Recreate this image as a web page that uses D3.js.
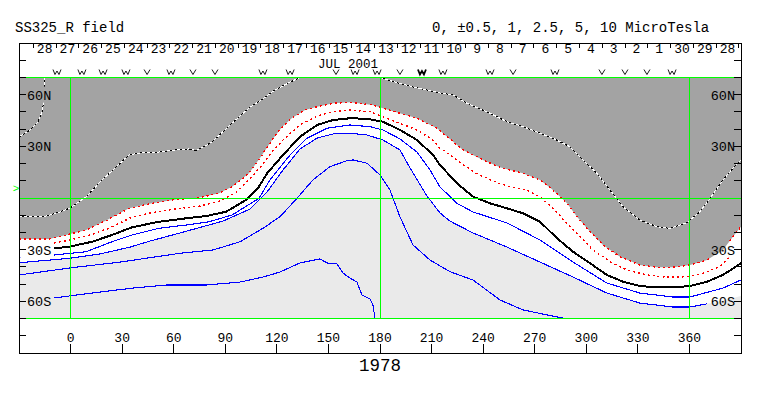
<!DOCTYPE html>
<html>
<head>
<meta charset="utf-8">
<script src="https://cdn.jsdelivr.net/npm/d3@7"></script>
<style>body{margin:0;background:#fff}</style>
</head>
<body>
<script>
// Carrington rotation / source surface field
const rotation = "1978"
const title = "SS325_R field"
const levels = "0, \u00b10.5, 1, 2.5, 5, 10 MicroTesla"
const monthLabel = "JUL 2001"

const days = [28,27,26,25,24,23,22,21,20,19,18,17,16,15,14,13,12,11,10,9,8,7,6,5,4,3,2,1,30,29,28]
const dayTick0 = -21.7
const degPerDay = 13.24

const lonTicks = [0,30,60,90,120,150,180,210,240,270,300,330,360]
const latLabelValues = [60,30,-30,-60]
const latLabels = ["60N","30N","30S","60S"]
const earthLat = 5.6

const sectorLon = [-7.9,6.6,18.9,32.2,44.5,58.4,71.2,84,111.9,127.7,154.4,165.5,178.3,191.6,204.4,216.6,244,257.4,281.8,309.1,322.5,335.3,349.9]
const sectorMark = ["w","w","w","w","v","w","v","v","w","w","v","w","w","v","W","w","w","v","w","v","v","v","w"]

// contour lines, [longitude, latitude]
const pos25A = [[-15.5,70],[-14.9,62.7],[-15.5,56.9],[-16.6,49.9],[-19,44.1],[-23.6,39.5],[-30,35.4]]
const pos25B = [[-30,-10.5],[-14.3,-10.5],[-6.2,-8.1],[-0.3,-5.8],[9,0.6],[18.3,10.5],[25.9,17.4],[34,25],[43.3,26.7],[51.4,26.7],[60.8,27.9],[68.9,28.5],[73,27.6],[78.2,30.2],[82.3,32.5],[92.8,42.4],[104.4,52.8],[111.9,57.5],[118.9,62.7],[127.7,67.3],[133.5,70]]
const pos25C = [[180,70],[188.7,67.3],[199.2,64.5],[214.9,61],[222.5,59.8],[230.6,55],[244,49.2],[253.9,44.3],[263.2,41.4],[273.1,37.6],[280.6,34.7],[290.5,29.8],[298.1,22.1],[306.2,14.3],[313.8,4.6],[321.4,-5.1],[331.2,-12.8],[341.1,-16.7],[348.7,-17.6],[358.6,-14.3],[366.1,-8],[372,-0.2],[379.5,10.5],[385.3,17.2],[390,22.1]]
const pos1 = [[-30,-23.8],[-12.5,-23.8],[-0.9,-21.1],[9,-18.6],[21.2,-12.8],[34,-6],[47.4,-3.1],[61.3,-0.8],[73,-0.2],[86.3,2.7],[93.9,6.6],[103.8,14.3],[111.4,25],[117.2,33.7],[123,41.2],[128.8,46.5],[136.4,51.1],[143.4,53],[152.7,55],[162.5,55.6],[175.9,54],[181.7,52.1],[191.6,49.2],[201.5,46.3],[213.2,40.5],[228.3,27.9],[239.9,22.1],[249.8,17.8],[263.2,14.3],[273.1,10.5],[280.6,4.6],[288.8,-3.1],[294.6,-10.9],[300.4,-17.6],[309.7,-27.3],[319.6,-34.1],[331.2,-38.9],[341.1,-40.2],[350.4,-40.2],[360.3,-38.9],[370.2,-36],[379.5,-30.2],[385.3,-22.5],[390,-16.7]]
const pos05 = [[-30,-27.3],[-9.6,-26.1],[-0.3,-24.4],[11.3,-21.5],[22.9,-17.4],[34.6,-11.6],[46.2,-8.7],[60.8,-6.4],[75.3,-4.7],[86.9,-1.7],[95.7,2.9],[104.4,11],[111.4,19.2],[117.2,26.7],[123.6,33.7],[133.5,42.4],[143.4,47.6],[152.7,50.1],[162.5,51.1],[174.2,50.1],[181.7,47.2],[191.6,43.4],[201.5,39.5],[210.8,33.7],[214.9,28.9],[224.8,22.1],[234.1,15.3],[244,10.5],[253.9,7],[265.5,4.6],[273.1,0.8],[280.6,-6],[288.8,-14.7],[296.3,-22.5],[303.9,-30.2],[313.8,-37],[323.7,-41.8],[335.3,-44.7],[347,-46],[358.6,-45.7],[367.9,-43.7],[377.8,-39.9],[382.4,-35],[390,-30.2]]
const zero = [[-30,-30.8],[-9.6,-29.2],[-0.9,-28.3],[12.5,-25.4],[24.1,-21.5],[35.7,-17],[51.4,-13.8],[67.1,-11.8],[78.8,-10.5],[90.4,-8],[102,-1.2],[109.6,6.6],[114.3,14.3],[123.6,25],[133.5,35.6],[143.4,42.4],[152.7,45.3],[162.5,46.3],[172.4,46],[181.7,44.3],[191.6,39.5],[201.5,33.7],[210.8,25],[214.9,19.2],[224.8,8.5],[234.1,0.8],[244,-3.1],[253.9,-6],[263.2,-8.9],[273.1,-13.8],[283,-23.4],[292.3,-31.2],[302.2,-37.9],[312,-44.7],[321.4,-48.6],[331.2,-51.1],[341.1,-51.9],[350.4,-51.9],[360.3,-51.1],[370.2,-48.6],[379.5,-44.7],[390,-37.9]]
const neg05 = [[-30,-34.3],[-9.6,-33.1],[9,-31.2],[24.1,-25.4],[35.7,-21.5],[51.4,-17.6],[67.1,-15.7],[80.5,-13.8],[93.9,-9.9],[109.6,-0.2],[116,10.5],[127.7,25],[137.5,34.7],[149.2,40.5],[162.5,42.4],[174.2,41.4],[181.7,39.5],[191.6,34.3],[201.5,26.7],[209.1,16.3],[214.9,6.4],[224.8,-3.1],[234.1,-8.1],[253.9,-14.5],[273.1,-24.4],[292.3,-37.2],[312,-49.4],[331.2,-55.2],[350.4,-57.5],[360.3,-57.5],[379.5,-52.3],[390,-47.6]]
const neg1 = [[-30,-37.6],[-0.3,-35],[17.1,-32.5],[34.6,-28.5],[46.2,-25],[63.7,-20.3],[88.7,-13.4],[104.4,-6.4],[114.3,3.5],[123.6,16.3],[133.5,28.5],[143.4,34.8],[152.7,37.2],[162.5,37.6],[172.4,36.6],[181.7,33.7],[191.6,27.9],[197.5,17.4],[207.3,1.2],[214.9,-8.7],[220.7,-13.4],[234.1,-20.3],[253.9,-28.5],[273.1,-37.2],[292.3,-45.9],[312,-55.2],[331.2,-61],[350.4,-63.3],[360.3,-63.3],[376,-60.4],[390,-56.9]]
const neg25 = [[-30,-44.7],[-0.3,-40.6],[28.8,-37.2],[63.7,-32.1],[82.8,-30.2],[98.6,-25.4],[111.9,-17.6],[121.8,-10.9],[131.7,-0.2],[141,10.5],[150.9,18.2],[160.8,21.7],[164.3,22.1],[172.4,20.2],[180,13.4],[185.8,4.6],[191.6,-10.9],[199.2,-27.3],[209.1,-36],[220.7,-42.8],[234.1,-47.6],[249.8,-59.2],[263.2,-65],[287.6,-70]]
const neg5 = [[-30,-59.8],[-10.2,-58.1],[17.1,-54.6],[36.3,-52.3],[56.1,-50.5],[79.4,-50.5],[98.6,-48.8],[111.9,-45.9],[121.8,-43],[133.5,-37.7],[145.1,-35.4],[149.2,-37.7],[155,-38.3],[158.5,-43.6],[162.5,-46.5],[166.6,-48.8],[169.5,-56.3],[174.2,-58.6],[175.9,-62.1],[177.1,-70]]

const width = 763
const height = 396
const font = "'Liberation Mono', 'DejaVu Sans Mono', monospace"
const darkGray = "#a3a3a3"
const lightGray = "#eaeaea"
const green = "#00ff00"

const x = d3.scaleLinear().domain([-30, 390]).range([19, 741])
const y = d3.scaleLinear().domain([90, -90]).range([43, 353])
const px = v => Math.floor(v) + 0.5

const svg = d3.select("body").append("svg")
  .attr("width", width).attr("height", height)
  .style("font-family", font)

// mask so the contour lines stop at the latitude labels
const mask = svg.append("defs").append("mask").attr("id", "lblmask")
mask.append("rect").attr("width", width).attr("height", height).attr("fill", "#fff")
latLabelValues.forEach(v => {
  mask.append("rect").attr("x", 19).attr("y", y(v) - 8).attr("width", 35).attr("height", 16).attr("fill", "#000")
  mask.append("rect").attr("x", 707).attr("y", y(v) - 8).attr("width", 35).attr("height", 16).attr("fill", "#000")
})

// shaded polarity regions
svg.append("path")
  .attr("d", d3.area().x(d => x(d[0])).y0(y(70)).y1(d => y(d[1]))(pos1))
  .attr("fill", darkGray)
svg.append("path")
  .attr("d", d3.area().x(d => x(d[0])).y0(y(-70)).y1(d => y(d[1]))(neg1))
  .attr("fill", lightGray)

const line = d3.line().x(d => x(d[0])).y(d => y(d[1]))
const contours = svg.append("g").attr("mask", "url(#lblmask)")
  .attr("fill", "none").style("shape-rendering", "crispEdges")

;[pos25A, pos25B, pos25C].forEach(seg => {
  contours.append("path").attr("d", line(seg)).attr("stroke", "#000").attr("stroke-width", 1)
  contours.append("path").attr("d", line(seg)).attr("stroke", "#fff").attr("stroke-width", 1)
    .attr("stroke-dasharray", "3,2")
})
;[pos1, pos05].forEach(seg => {
  contours.append("path").attr("d", line(seg)).attr("stroke", "#ff0000").attr("stroke-width", 1.4)
    .attr("stroke-dasharray", "2,3")
})
contours.append("path").attr("d", line(zero)).attr("stroke", "#000").attr("stroke-width", 2)
;[neg05, neg1, neg25, neg5].forEach(seg => {
  contours.append("path").attr("d", line(seg)).attr("stroke", "#0000ff").attr("stroke-width", 1.1)
})

// green reference grid
const grid = svg.append("g").attr("stroke", green).attr("stroke-width", 1).style("shape-rendering", "crispEdges")
;[70, 0, -70].forEach(lat => {
  grid.append("line").attr("x1", x(-30)).attr("x2", x(390)).attr("y1", px(y(lat))).attr("y2", px(y(lat)))
})
;[0, 180, 360].forEach(lon => {
  grid.append("line").attr("x1", px(x(lon))).attr("x2", px(x(lon))).attr("y1", y(70)).attr("y2", y(-70))
})

// frame and ticks
const axes = svg.append("g").attr("stroke", "#000").style("shape-rendering", "crispEdges")
axes.append("rect").attr("x", px(x(-30))).attr("y", px(y(90))).attr("width", x(390) - x(-30)).attr("height", y(-90) - y(90))
  .attr("fill", "none")
d3.range(80, -81, -10).filter(v => v !== 0).forEach(v => {
  axes.append("line").attr("x1", x(-30)).attr("x2", x(-30) + 7).attr("y1", px(y(v))).attr("y2", px(y(v)))
  axes.append("line").attr("x1", x(390) - 7).attr("x2", x(390)).attr("y1", px(y(v))).attr("y2", px(y(v)))
})
lonTicks.forEach(v => {
  axes.append("line").attr("x1", px(x(v))).attr("x2", px(x(v))).attr("y1", y(-90) - 9).attr("y2", y(-90))
})
d3.range(days.length + 1).forEach(k => {
  const lon = dayTick0 + k * degPerDay
  axes.append("line").attr("x1", px(x(lon))).attr("x2", px(x(lon))).attr("y1", y(90)).attr("y2", y(90) + 5)
})

// sector polarity marks drawn as small v / w strokes
const markShape = {
  v: "M-3,-2.5L0,2.5L3,-2.5",
  w: "M-4,-2.5L-2,2.5L0,-1L2,2.5L4,-2.5"
}
const marks = svg.append("g").attr("fill", "none").attr("stroke", "#000")
sectorLon.forEach((lon, i) => {
  const m = sectorMark[i]
  marks.append("path")
    .attr("transform", `translate(${x(lon)},72)`)
    .attr("d", markShape[m.toLowerCase()])
    .attr("stroke-width", m === "W" ? 1.8 : 0.9)
})

// texts
const txt = svg.append("g").attr("fill", "#000")
txt.append("text").attr("x", 15).attr("y", 32).attr("font-size", 14).text(title)
txt.append("text").attr("x", 432).attr("y", 32).attr("font-size", 14).text(levels)

days.forEach((d, k) => {
  txt.append("text").attr("x", x(dayTick0 + (k + 0.5) * degPerDay)).attr("y", 53)
    .attr("font-size", 13).attr("text-anchor", "middle").text(d)
})
txt.append("text").attr("x", 318).attr("y", 67.5).attr("font-size", 12.5).text(monthLabel)

latLabelValues.forEach((v, i) => {
  txt.append("text").attr("x", x(-30) + 8).attr("y", y(v)).attr("dy", "0.36em")
    .attr("font-size", 13.5).text(latLabels[i])
  txt.append("text").attr("x", x(390) - 6).attr("y", y(v)).attr("dy", "0.36em")
    .attr("font-size", 13.5).attr("text-anchor", "end").text(latLabels[i])
})

lonTicks.forEach(v => {
  txt.append("text").attr("x", x(v)).attr("y", 342).attr("font-size", 13)
    .attr("text-anchor", "middle").text(v)
})

txt.append("text").attr("x", 380).attr("y", 371).attr("font-size", 17.5)
  .attr("text-anchor", "middle").text(rotation)

svg.append("text").attr("x", 16).attr("y", y(earthLat)).attr("dy", "0.35em")
  .attr("font-size", 11).attr("text-anchor", "middle").attr("fill", green).text(">")
</script>
</body>
</html>
